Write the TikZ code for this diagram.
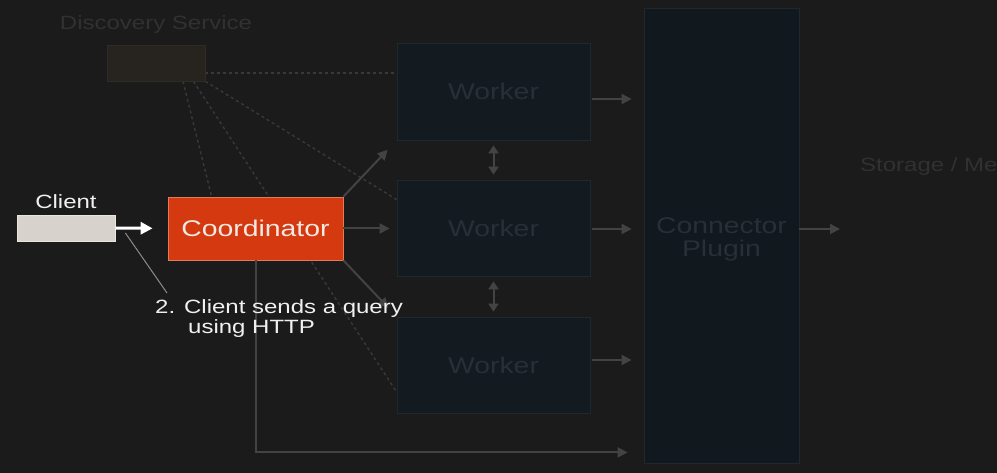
\documentclass[tikz,border=0pt]{standalone}
\usepackage{fontspec}
\setmainfont{Liberation Sans}
\usepackage{graphicx}
\usetikzlibrary{arrows.meta,positioning,calc}

\definecolor{bgdark}{HTML}{1B1B1B}
\definecolor{coordfill}{HTML}{D4390F}
\definecolor{coordedge}{HTML}{E27A5C}
\definecolor{coordtext}{HTML}{F3E8E2}
\definecolor{clientfill}{HTML}{D8D2CD}
\definecolor{clientedge}{HTML}{E8E4E0}
\definecolor{workerfill}{HTML}{131B21}
\definecolor{workeredge}{HTML}{1D2831}
\definecolor{workertext}{HTML}{272F37}
\definecolor{discfill}{HTML}{27231F}
\definecolor{discedge}{HTML}{2F2B27}
\definecolor{dimtext}{HTML}{313131}
\definecolor{flowgray}{HTML}{434343}
\definecolor{pinggray}{HTML}{393939}
\definecolor{leadgray}{HTML}{8C8C8C}

\pgfdeclarelayer{canvas}
\pgfdeclarelayer{links}
\pgfsetlayers{canvas,links,main}

\newcommand{\wide}[1]{\scalebox{1.25}[1]{#1}}
\newcommand{\bigtext}{\fontsize{22.7}{23}\selectfont}
\newcommand{\midtext}{\fontsize{19.2}{20}\selectfont}

\begin{document}
\begin{tikzpicture}[
  x=1pt, y=-1pt,
  box/.style={draw, inner sep=0pt, align=center, line width=0.8pt},
  workerbox/.style={box, draw=workeredge, fill=workerfill, text=workertext, minimum width=193pt, minimum height=96pt, font=\bigtext},
  discbox/.style={box, draw=discedge, fill=discfill, minimum width=98pt, minimum height=36pt},
  clientbox/.style={box, draw=clientedge, fill=clientfill, minimum width=98pt, minimum height=26pt},
  coordbox/.style={box, draw=coordedge, fill=coordfill, text=coordtext, minimum width=175pt, minimum height=63pt, font=\bigtext},
  dimlabel/.style={inner sep=0pt, text=dimtext, font=\midtext},
  brightlabel/.style={inner sep=0pt, text=white!94!black, font=\midtext},
  flow/.style={draw=flowgray, line width=2pt, -{Triangle[length=10pt,width=10pt]}},
  twoway/.style={draw=flowgray, line width=2pt, {Triangle[length=8pt,width=10pt]}-{Triangle[length=8pt,width=10pt]}},
  ping/.style={draw=pinggray, line width=1.4pt, dash pattern=on 3pt off 3pt},
  request/.style={draw=white, line width=3pt, -{Triangle[length=12pt,width=12pt]}},
  leader/.style={draw=leadgray, line width=1pt}
]
\begin{pgfonlayer}{canvas}
\fill[bgdark] (0,0) rectangle (997,473);
\end{pgfonlayer}
\useasboundingbox (0,0) rectangle (997,473);

% discovery service
\node[discbox] (disc) at (156,63) {};
\node[dimlabel, above=11pt of disc] (disclabel) {\wide{Discovery Service}};

% client and coordinator
\node[clientbox] (client) at (66,228) {};
\node[brightlabel, above=6pt of client] (clientlabel) {\wide{Client}};
\node[coordbox] (coord) at (255.5,228.5) {\wide{Coordinator}};

% workers
\node[workerbox, minimum height=97pt] (w1) at (493.5,91.5) {\wide{Worker}};
\node[workerbox] (w2) at (493.5,228) {\wide{Worker}};
\node[workerbox] (w3) at (493.5,365) {\wide{Worker}};

% connector plugin and storage
\node[box, draw=workeredge, fill=workerfill!90!black, text=workertext, minimum width=155pt, minimum height=455pt, font=\bigtext] (plugin) at (721.5,235.5) {\wide{Connector}\rule{0pt}{23.5pt}\\\wide{Plugin}};
\node[dimlabel, anchor=base west] (storage) at (860,172) {\wide{Storage / Me}};
\coordinate (storein) at (840,229);

% discovery links
\begin{pgfonlayer}{links}
\draw[ping] ($(disc.east)+(0,10)$) -- ($(disc.east -| w1.west)+(0,10)$);
\draw[ping] ($(disc.south)+(27,0)$) -- ($(coord.north west)+(44,0)$);
\draw[ping] ($(disc.south east)+(-12,0)$) -- ($(w3.west)+(0,27)$);
\draw[ping] (disc.south east) -- ($(w2.north west)+(0,20)$);
\end{pgfonlayer}

% query flow
\draw[request, shorten >=15pt] (client.east) -- (coord.west);

\draw[flow, shorten >=13pt] (coord.north east) -- (w1.south west);
\draw[flow, shorten >=7pt] (coord.east) -- (coord.east -| w2.west);
\draw[flow, shorten >=12pt] (coord.south east) -- (w3.north west);
\draw[flow, shorten >=16pt] (coord.south) |- ($(plugin.south west)+(0,-11)$);

\draw[twoway, shorten <=5pt, shorten >=5pt] (w1.south) -- (w2.north);
\draw[twoway, shorten <=5pt, shorten >=5pt] (w2.south) -- (w3.north);

\draw[flow, shorten <=2pt, shorten >=12pt] ($(w1.east)+(0,7.5)$) -- ($(w1.east -| plugin.west)+(0,7.5)$);
\draw[flow, shorten <=2pt, shorten >=12pt] ($(w2.east)+(0,1)$) -- ($(w2.east -| plugin.west)+(0,1)$);
\draw[flow, shorten <=2pt, shorten >=12pt] ($(w3.east)+(0,-5)$) -- ($(w3.east -| plugin.west)+(0,-5)$);
\draw[flow] (plugin.east |- storein) -- (storein);

% note on the request
\node[brightlabel, anchor=north west, align=left] (httpnote) at (155,299) {\wide{2. Client sends a query}\\\hspace*{33pt}\wide{using HTTP}};
\coordinate (notetap) at ($(client.east)+(10,5)$);
\draw[leader] (notetap) -- ($(httpnote.north west)+(12,-6)$);
\end{tikzpicture}
\end{document}
